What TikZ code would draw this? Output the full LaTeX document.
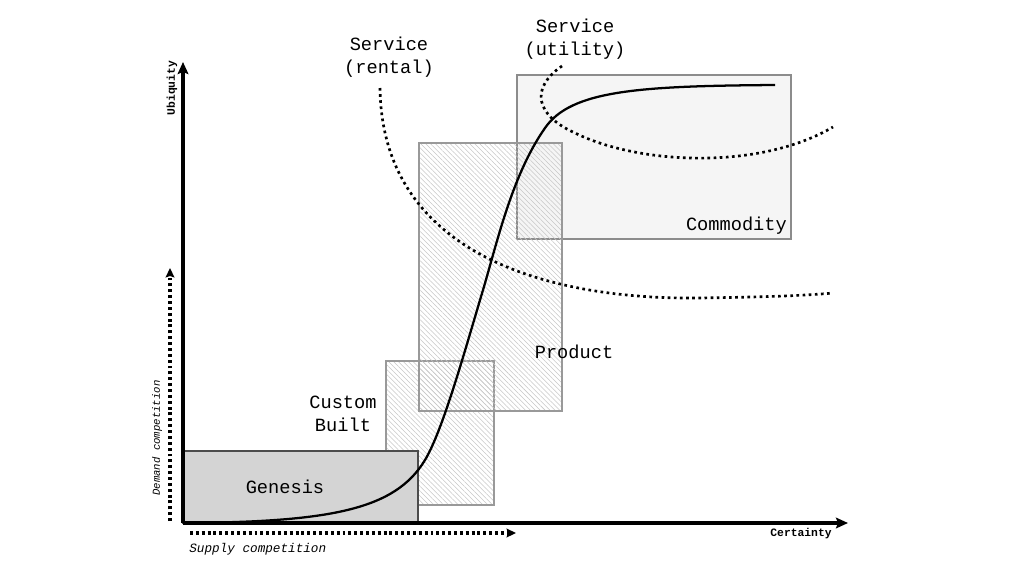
\documentclass[tikz,border=0pt]{standalone}
\usepackage{fontspec}
\setmainfont{Liberation Mono}
\usepackage{tikz}
\usetikzlibrary{arrows.meta, patterns.meta, fit, positioning}
\tikzstyle{genesisbox} = [rectangle, inner sep=0pt, draw=black!70, line width=0.8pt, fill=black!17]
\tikzstyle{hatchbox} = [rectangle, inner sep=0pt, draw=black!40, line width=0.8pt, pattern={Lines[angle=-45, distance=2.6pt, line width=0.4pt]}, pattern color=black!22]
\tikzstyle{commoditybox} = [rectangle, inner sep=0pt, draw=black!45, line width=0.8pt, fill=black!4]
\tikzstyle{stage} = [font=\fontsize{14}{17}\selectfont, align=center]
\tikzstyle{axislabel} = [font=\fontsize{8.5}{10}\selectfont\bfseries]
\tikzstyle{axis} = [line width=2.3pt,-{Stealth[length=9pt, width=8pt, inset=1.5pt]}]
\tikzstyle{trend} = [line width=2.3pt,-{Stealth[length=7pt, width=6.5pt, inset=1pt]}, dash pattern=on 2.2pt off 2.2pt]
\tikzstyle{boundary} = [line width=2pt, dash pattern=on 2pt off 2.6pt]

\begin{document}
\begin{tikzpicture}[x=0.75pt, y=-0.75pt]
\useasboundingbox (0,0) rectangle (1024,576);

\coordinate (origin) at (183,523);
\coordinate (ytip) at (183,62);
\coordinate (xtip) at (848,523);

% stage boxes
\node (commodity) [commoditybox, fit={(517,75) (791,239)}] {};
\node (custom) [hatchbox, fit={(386,361) (494,505)}] {};
\node (product) [hatchbox, fit={(419,143) (562,411)}] {};
\node (genesis) [genesisbox, fit={(183,451) (418,523)}] {};

\node (genesislbl) [stage] at (285,487) {Genesis};
\node (customlbl) [stage] at (343,414) {Custom\\Built};
\node (productlbl) [stage] at (574,352) {Product};
\node (commoditylbl) [stage, above left=0pt and 0pt of commodity.south east] {Commodity};
\node (rentallbl) [stage] at (389,57) {Service\\(rental)};
\node (utilitylbl) [stage] at (575,39) {Service\\(utility)};

% service boundaries
\draw [boundary] (380,88) .. controls (382,250) and (540,300) .. (700,298)
  .. controls (760,297) and (800,296) .. (833,293);
\draw [boundary] (562,66) .. controls (530,88) and (535,115) .. (575,133)
  .. controls (640,165) and (760,170) .. (833,127);

% evolution curve
\draw [line width=1.7pt] (origin) .. controls (330,522) and (395,510) .. (425,460)
  .. controls (443,430) and (465,350) .. (483,290)
  .. controls (497,243) and (512,175) .. (545,128)
  .. controls (571,90) and (640,86) .. (775,85);

% axes
\draw [axis] (origin) -- (ytip);
\draw [axis] (origin) -- (xtip);
\node (ubiquity) [axislabel, rotate=90] at (172,88) {Ubiquity};
\node (certainty) [axislabel] at (801,534) {Certainty};

% competition
\coordinate (dstart) at (170,521);
\coordinate (dend) at (170,268);
\coordinate (sstart) at (190,533);
\coordinate (send) at (516,533);
\draw [trend] (dstart) -- (dend);
\draw [trend] (sstart) -- (send);
\node (demand) [font=\fontsize{8}{10}\selectfont\itshape, rotate=90] at (157,438) {Demand competition};
\node (supply) [font=\fontsize{9.5}{11}\selectfont\itshape, right=0pt of sstart, anchor=north west, yshift=-4pt, xshift=-4pt] {Supply competition};

\end{tikzpicture}
\end{document}
